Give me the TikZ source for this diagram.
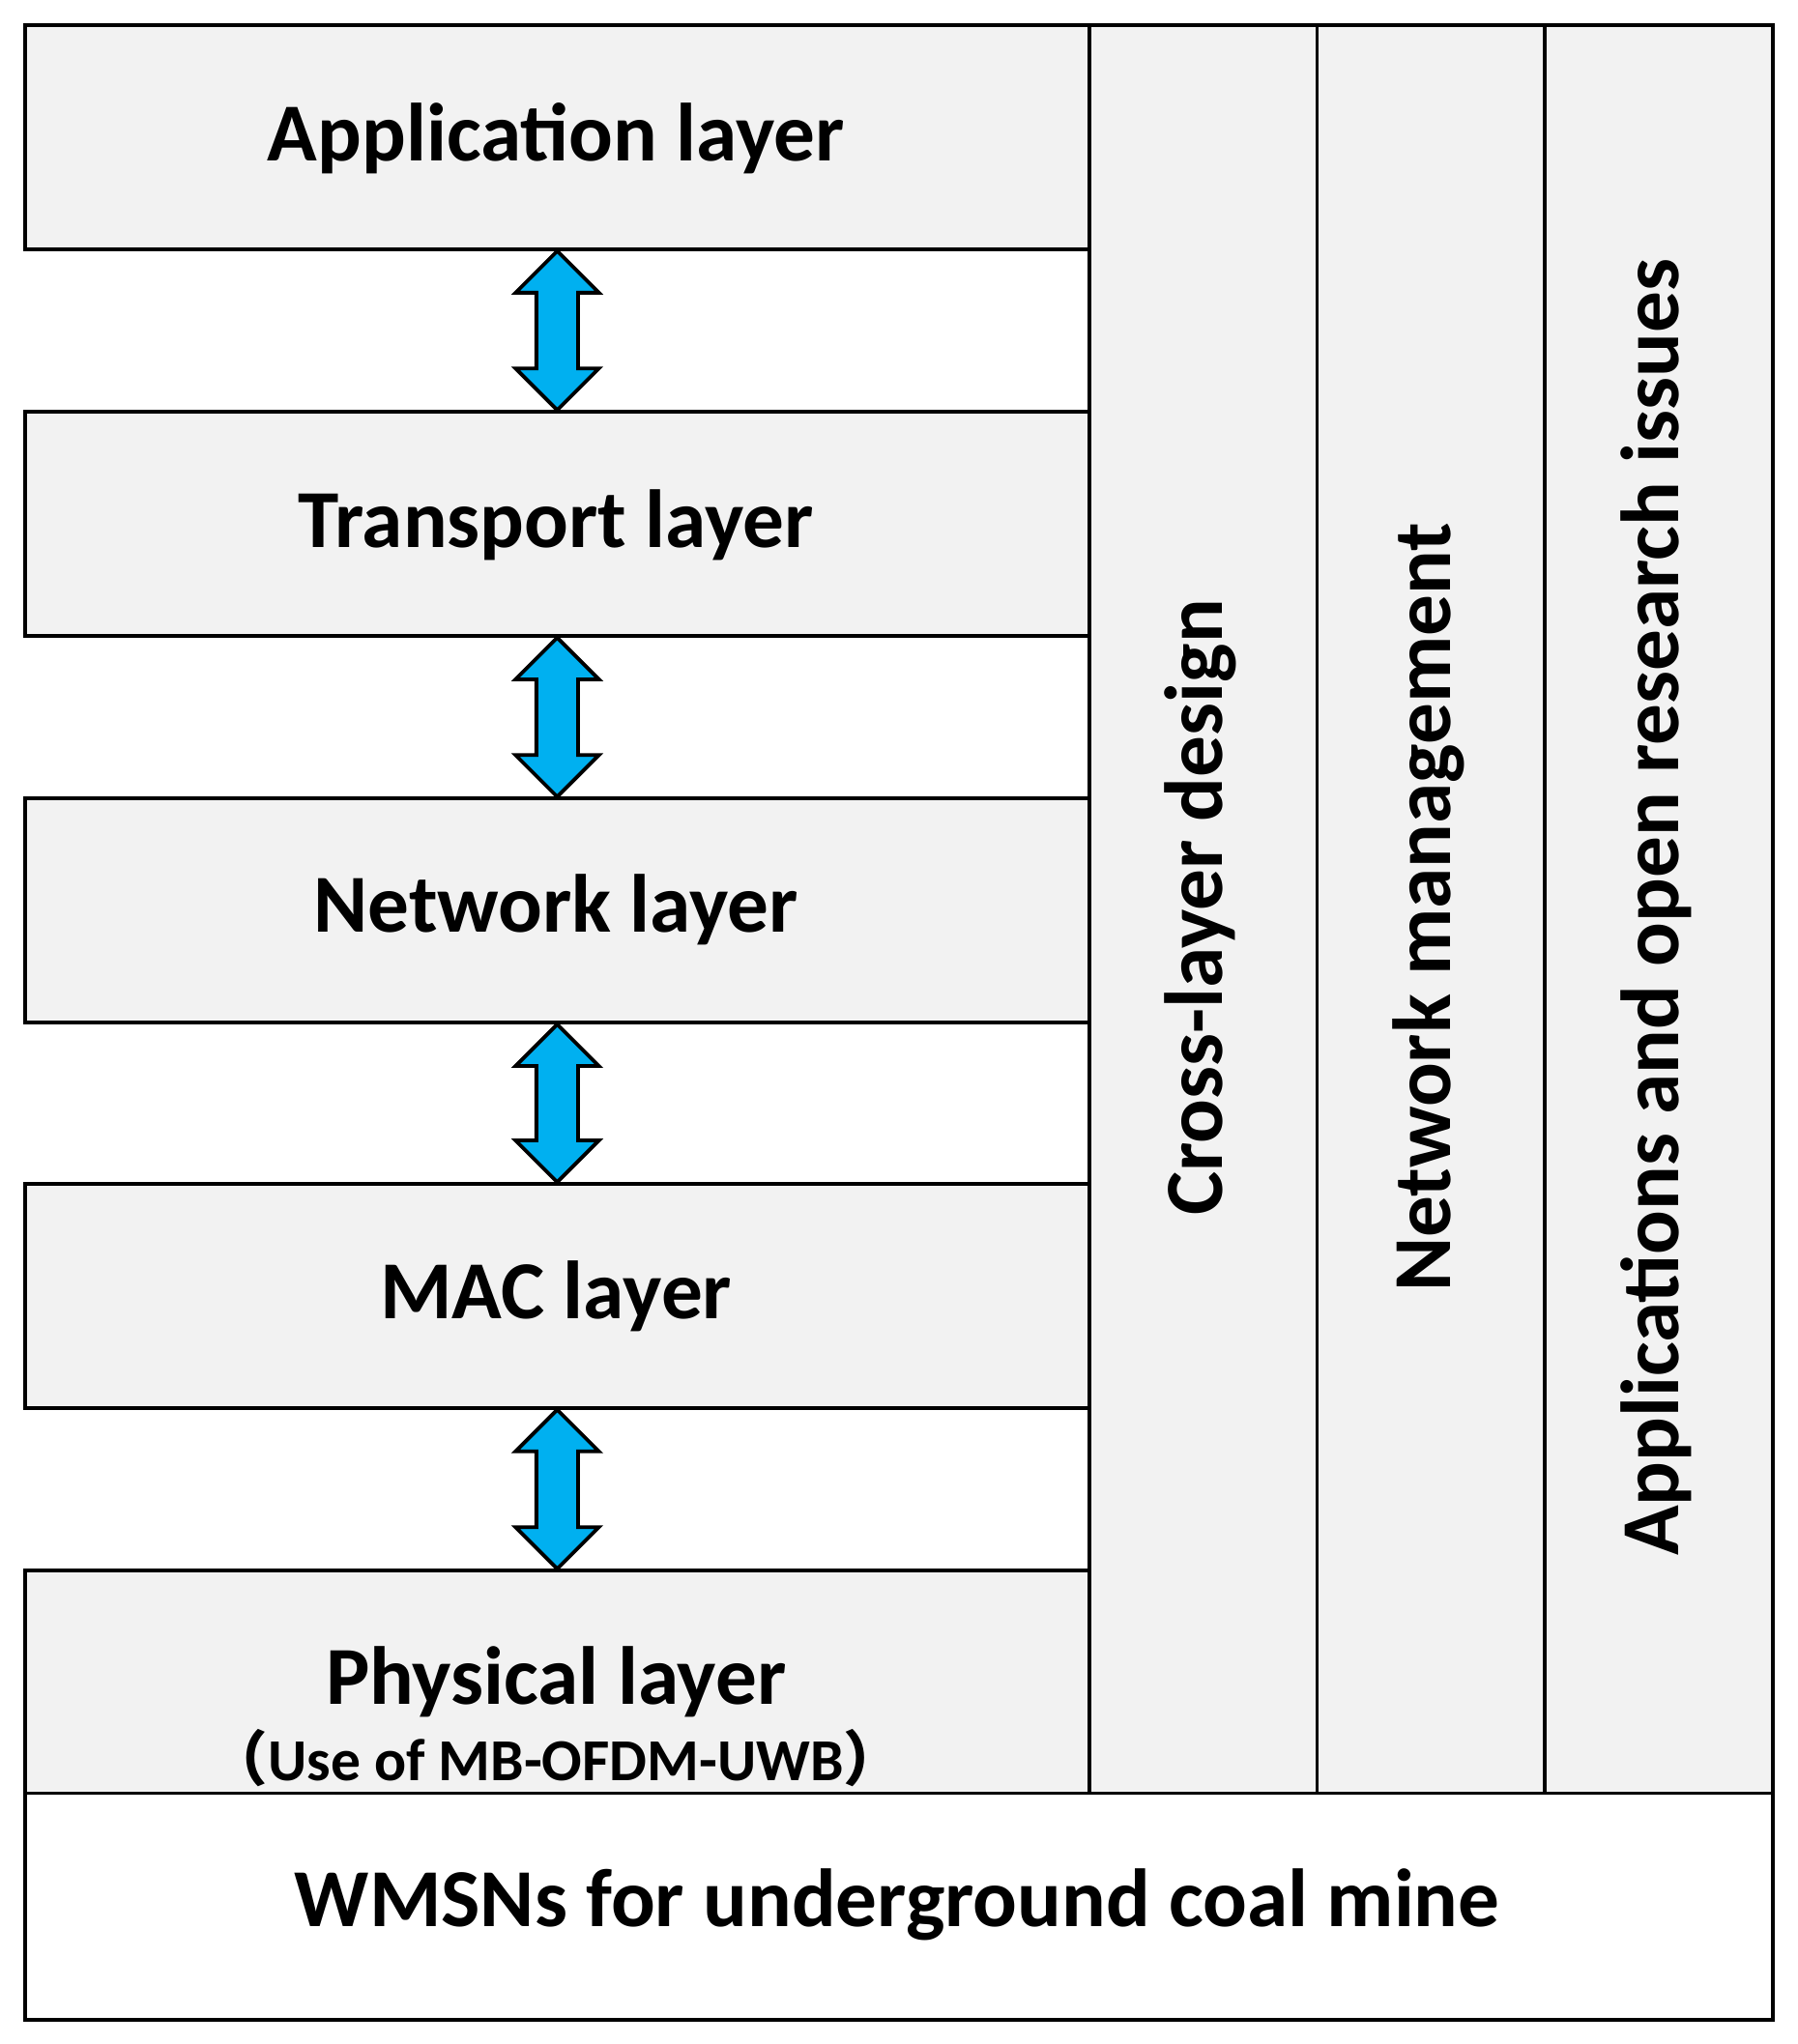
\documentclass[tikz,border=0pt]{standalone}
\usepackage{fontspec}
\usetikzlibrary{calc}
\setmainfont{Carlito}
\newfontfamily\cjk{Noto Sans CJK SC}
\begin{document}
\begin{tikzpicture}[x=0.01cm,y=-0.01cm,
  box/.style={draw=black,line width=0.8pt,fill=gray!10,minimum width=817*0.01cm,inner sep=0pt,anchor=north west},
  col/.style={draw=black,line width=0.8pt,fill=gray!10,minimum width=175*0.01cm,minimum height=1358*0.01cm,inner sep=0pt,anchor=north west},
  lbl/.style={font=\bfseries\fontsize{18}{20}\selectfont},
  vlbl/.style={font=\bfseries\fontsize{18}{20}\selectfont,rotate=90}]
\useasboundingbox (0,0) rectangle (1380,1570);
\definecolor{arr}{HTML}{00B0F0}
\newcommand\dblarr[2]{%
  \draw[fill=arr,line width=0.8pt] let \p1=(#1),\p2=(#2) in
    (\x1,\y1) -- (\x1+0.32cm,\y1-0.32cm) -- (\x1+0.16cm,\y1-0.32cm) -- (\x1+0.16cm,\y2+0.32cm) -- (\x1+0.32cm,\y2+0.32cm)
    -- (\x1,\y2) -- (\x1-0.32cm,\y2+0.32cm) -- (\x1-0.16cm,\y2+0.32cm) -- (\x1-0.16cm,\y1-0.32cm) -- (\x1-0.32cm,\y1-0.32cm) -- cycle;}
\node[box,minimum height=172*0.01cm] (app) at (18,18) {};
\node[box,minimum height=172*0.01cm] (tra) at (18,315) {};
\node[box,minimum height=172*0.01cm] (net) at (18,612) {};
\node[box,minimum height=172*0.01cm] (mac) at (18,908) {};
\node[box,minimum height=171*0.01cm] (phy) at (18,1205) {};
\node[lbl] at (427,106) {Application layer};
\node[lbl] at (427,403) {Transport layer};
\node[lbl] at (427,699) {Network layer};
\node[lbl] at (427,996) {MAC layer};
\node[lbl] at (427,1292) {Physical layer};
\node[font=\bfseries\fontsize{13}{15}\selectfont] at (427,1350) {{\cjk （}Use of MB-OFDM-UWB{\cjk ）}};
\node[col] (c1) at (835,18) {};
\node[col] (c2) at (1010,18) {};
\node[col] (c3) at (1185,18) {};
\node[vlbl] at (922,697) {Cross-layer design};
\node[vlbl] at (1097,697) {Network management};
\node[vlbl] at (1272,697) {Applications and open research issues};
\node[draw=black,line width=0.8pt,fill=white,minimum width=1342*0.01cm,minimum height=174*0.01cm,inner sep=0pt,anchor=north west] (base) at (18,1376) {};
\node[lbl] at (689,1463) {WMSNs for underground coal mine};
\dblarr{app.south}{tra.north}
\dblarr{tra.south}{net.north}
\dblarr{net.south}{mac.north}
\dblarr{mac.south}{phy.north}
\end{tikzpicture}
\end{document}
